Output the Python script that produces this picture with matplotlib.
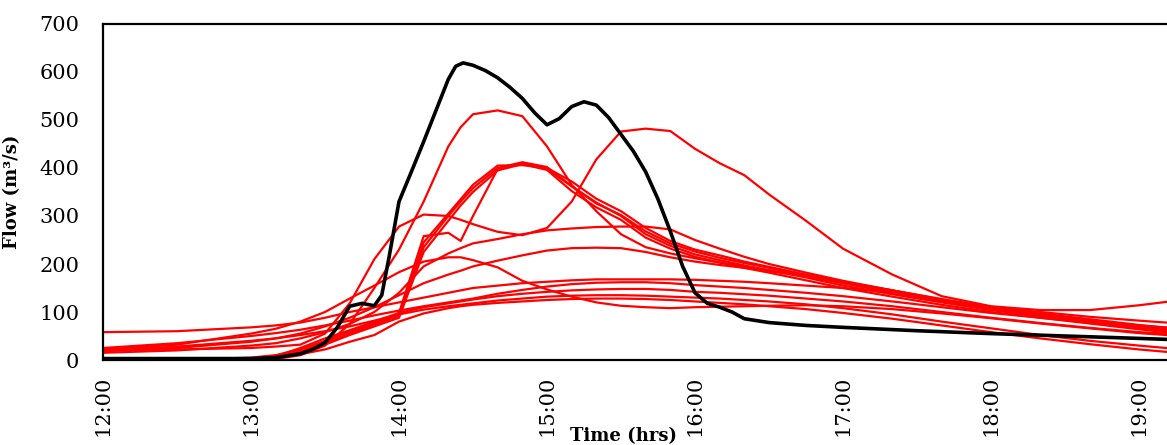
import matplotlib
matplotlib.use("Agg")
import matplotlib.pyplot as plt

# ---------------- data ----------------
x_tick_labels = ["12:00", "13:00", "14:00", "15:00", "16:00", "17:00", "18:00", "19:00"]
y_ticks = [0, 100, 200, 300, 400, 500, 600, 700]

# time grid shared by the red (ensemble) hydrographs
red_times = ["12:00", "12:30", "13:00", "13:10", "13:20", "13:30", "13:40", "13:50",
             "14:00", "14:10", "14:20", "14:25", "14:30", "14:40", "14:50", "15:00",
             "15:10", "15:20", "15:30", "15:40", "15:50", "16:00", "16:10", "16:20",
             "16:30", "16:45", "17:00", "17:20", "17:40", "18:00", "18:20", "18:40",
             "19:00", "19:11"]

red_late_peak = [20, 22, 25, 28, 32, 55, 118, 210, 278, 303, 300, 292, 283, 267, 260, 275,
                 330, 418, 476, 482, 477, 440, 410, 385, 345, 290, 232, 178, 133, 112, 104, 104,
                 114, 121]
red_peak_525 = [0, 0, 0, 2, 10, 30, 75, 150, 230, 330, 445, 485, 512, 520, 508, 445,
                365, 310, 262, 235, 222, 212, 203, 195, 187, 175, 160, 142, 125, 108, 95, 82,
                70, 65]
red_cluster_a = [0, 0, 2, 5, 15, 33, 55, 75, 98, 258, 265, 248, 300, 398, 410, 398,
                 362, 328, 300, 262, 238, 220, 208, 197, 187, 172, 155, 137, 120, 104, 92, 80,
                 68, 62]
red_cluster_b = [0, 0, 5, 10, 22, 40, 60, 78, 95, 235, 300, 330, 358, 400, 412, 402,
                 362, 326, 302, 268, 243, 226, 213, 202, 192, 176, 160, 140, 122, 105, 92, 80,
                 68, 63]
red_cluster_c = [0, 0, 3, 8, 18, 32, 52, 70, 88, 225, 290, 322, 350, 395, 408, 396,
                 352, 318, 292, 255, 232, 215, 203, 192, 182, 166, 150, 132, 115, 100, 88, 76,
                 64, 58]
red_cluster_d = [0, 0, 4, 9, 20, 36, 56, 74, 92, 245, 305, 335, 365, 405, 406, 400,
                 372, 336, 310, 275, 248, 230, 218, 205, 194, 178, 163, 145, 127, 110, 97, 85,
                 73, 67]
red_plateau_275 = [15, 20, 30, 35, 45, 58, 75, 100, 140, 195, 222, 233, 243, 252, 262, 270,
                   274, 277, 278, 278, 272, 250, 232, 215, 200, 182, 165, 145, 125, 106, 93, 80,
                   70, 66]
red_peak_215 = [22, 32, 55, 65, 80, 100, 128, 155, 183, 205, 214, 214, 208, 193, 165, 147,
                132, 120, 113, 110, 108, 110, 111, 112, 113, 114, 112, 106, 97, 87, 76, 66,
                56, 52]
red_rise_235 = [18, 25, 38, 45, 55, 70, 88, 110, 135, 160, 178, 186, 195, 207, 218, 228,
                233, 234, 233, 225, 214, 205, 198, 192, 185, 175, 163, 145, 126, 108, 94, 82,
                72, 68]
red_flat_0 = [58, 60, 68, 72, 78, 88, 100, 110, 120, 130, 140, 145, 150, 155, 160, 163,
              166, 168, 168, 168, 168, 167, 165, 163, 160, 155, 150, 140, 125, 110, 100, 90,
              82, 78]
red_flat_1 = [25, 35, 50, 56, 63, 72, 82, 93, 103, 112, 120, 124, 128, 138, 146, 153,
              158, 161, 162, 162, 160, 156, 153, 150, 146, 140, 133, 122, 110, 98, 88, 78,
              68, 64]
red_flat_2 = [0, 0, 3, 8, 25, 45, 62, 80, 98, 110, 118, 122, 126, 133, 138, 142,
              145, 147, 148, 148, 146, 142, 140, 137, 134, 128, 122, 112, 100, 88, 77, 67,
              58, 55]
red_flat_3 = [20, 28, 40, 45, 52, 60, 70, 82, 95, 105, 112, 115, 118, 124, 128, 132,
              134, 135, 135, 134, 132, 130, 128, 125, 122, 116, 108, 95, 80, 66, 52, 40,
              30, 25]
red_flat_4 = [0, 0, 2, 5, 12, 22, 38, 52, 80, 97, 108, 112, 115, 119, 122, 125,
              127, 128, 128, 127, 125, 122, 119, 116, 112, 106, 98, 86, 72, 58, 45, 33,
              22, 17]

red_series = [red_flat_0, red_flat_1, red_flat_2, red_flat_3, red_flat_4,
              red_peak_215, red_rise_235, red_plateau_275, red_late_peak, red_peak_525,
              red_cluster_a, red_cluster_b, red_cluster_c, red_cluster_d]

# observed hydrograph (black)
obs_times = ["12:00", "13:00", "13:10", "13:20", "13:25", "13:30", "13:35", "13:40",
             "13:45", "13:50", "13:53", "13:56", "14:00", "14:05", "14:10", "14:15",
             "14:20", "14:23", "14:26", "14:30", "14:35", "14:40", "14:45", "14:50",
             "14:55", "15:00", "15:05", "15:10", "15:15", "15:20", "15:25", "15:30",
             "15:35", "15:40", "15:45", "15:50", "15:55", "16:00", "16:05", "16:10",
             "16:15", "16:20", "16:30", "16:45", "17:00", "17:30", "18:00", "18:30",
             "19:00", "19:11"]
obs_flow = [3, 3, 5, 13, 22, 36, 68, 112, 118, 113, 135, 215, 330, 392, 455, 520,
            585, 612, 619, 614, 603, 588, 568, 545, 515, 490, 503, 528, 538, 531, 505, 470,
            435, 392, 335, 268, 195, 140, 118, 110, 100, 86, 78, 72, 68, 61, 55, 50,
            45, 43]


def to_hours(labels):
    out = []
    for s in labels:
        h, m = s.split(":")
        out.append(int(h) + int(m) / 60.0)
    return out


# ---------------- figure ----------------
plt.rcParams["font.family"] = ["DejaVu Serif"]
W, H = 1167, 445
fig = plt.figure(figsize=(W / 100, H / 100), dpi=100)
ax = fig.add_axes([103 / W, 1 - 360 / H, 1 - 103 / W, (360 - 24) / H])

rt = to_hours(red_times)
for s in red_series:
    ax.plot(rt, s, color="#ff0000", lw=1.6, solid_joinstyle="round", zorder=2)
ax.plot(to_hours(obs_times), obs_flow, color="black", lw=2.6,
        solid_joinstyle="round", zorder=3)

ax.set_xlim(12, 12 + (1167 - 103) / 148.0)
ax.set_ylim(0, 700)
ax.set_yticks(y_ticks)
ax.set_yticklabels([str(v) for v in y_ticks], fontsize=15)
ax.set_xticks(to_hours(x_tick_labels))
ax.set_xticklabels(x_tick_labels, rotation=90, fontsize=15)
ax.tick_params(axis="y", length=0, pad=17)
ax.tick_params(axis="x", length=0, pad=11)

for side in ["left", "top", "bottom"]:
    ax.spines[side].set_linewidth(1.6)
    ax.spines[side].set_color("black")
ax.spines["right"].set_visible(False)

ax.set_ylabel("Flow (m³/s)", fontsize=13, fontweight="bold")
ax.yaxis.set_label_coords(-82 / 1064, 0.5)
fig.text(623 / W, 1 - 436 / H, "Time (hrs)", fontsize=13, fontweight="bold",
         ha="center", va="center")

fig.savefig("out.png", dpi=100)
